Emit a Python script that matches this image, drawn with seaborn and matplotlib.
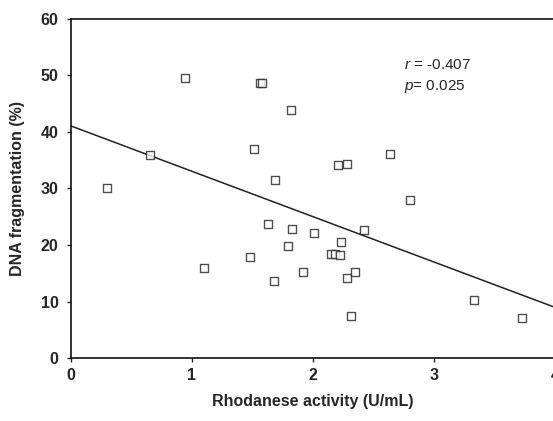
import numpy as np
import pandas as pd
import matplotlib
matplotlib.use("Agg")
import matplotlib.pyplot as plt
import seaborn as sns

# values
rhodanese = [0.30, 0.65, 0.94, 1.10, 1.48, 1.51, 1.56, 1.58, 1.63, 1.68,
             1.69, 1.79, 1.82, 1.83, 1.92, 2.01, 2.15, 2.18, 2.21, 2.22,
             2.23, 2.28, 2.28, 2.31, 2.35, 2.42, 2.64, 2.80, 3.33, 3.73]
dna_frag = [30.0, 35.9, 49.5, 16.0, 17.9, 37.0, 48.6, 48.6, 23.7, 13.6,
            31.5, 19.9, 43.9, 22.8, 15.3, 22.2, 18.4, 18.4, 34.2, 18.2,
            20.5, 34.4, 14.1, 7.5, 15.3, 22.6, 36.1, 28.0, 10.3, 7.1]
x_ticks = [0, 1, 2, 3, 4]
y_ticks = [0, 10, 20, 30, 40, 50, 60]
stats_text = ["$r$ = -0.407", "$p$= 0.025"]

df = pd.DataFrame({"Rhodanese": rhodanese, "DNA": dna_frag})

sns.set_style("ticks")
plt.rcParams["font.family"] = ["Liberation Sans", "DejaVu Sans"]
plt.rcParams["mathtext.fontset"] = "custom"
plt.rcParams["mathtext.it"] = "Liberation Sans:italic"
plt.rcParams["mathtext.rm"] = "Liberation Sans"

fig = plt.figure(figsize=(5.53, 4.21), dpi=100)
ax = fig.add_axes([71 / 553, 63 / 421, 484 / 553, 339 / 421])
ax.set_xlim(0, 4)
ax.set_ylim(0, 60)

sns.regplot(x="Rhodanese", y="DNA", data=df, ax=ax, ci=None, truncate=False,
            marker="s",
            scatter_kws={"s": 38, "facecolors": "white", "edgecolors": "#222222",
                         "linewidths": 1.0, "zorder": 3},
            line_kws={"color": "#222222", "linewidth": 1.1})

ax.set_xticks(x_ticks)
ax.set_yticks(y_ticks)
ax.tick_params(direction="out", length=3, width=1, labelsize=11.5)
ax.tick_params(axis="y", pad=6)
ax.tick_params(axis="x", pad=4)
for lab in ax.get_xticklabels() + ax.get_yticklabels():
    lab.set_fontweight("bold")
for sp in ax.spines.values():
    sp.set_visible(True)
    sp.set_linewidth(1.2)
    sp.set_color("#111111")

ax.set_xlabel("Rhodanese activity (U/mL)", fontsize=11.5, fontweight="bold", labelpad=8)
ax.set_ylabel("DNA fragmentation (%)", fontsize=11.5, fontweight="bold", labelpad=11)

ax.text(2.75, 51.8, stats_text[0], fontsize=11, va="center", ha="left")
ax.text(2.75, 48.1, stats_text[1], fontsize=11, va="center", ha="left")

fig.savefig("out.png", dpi=100)
